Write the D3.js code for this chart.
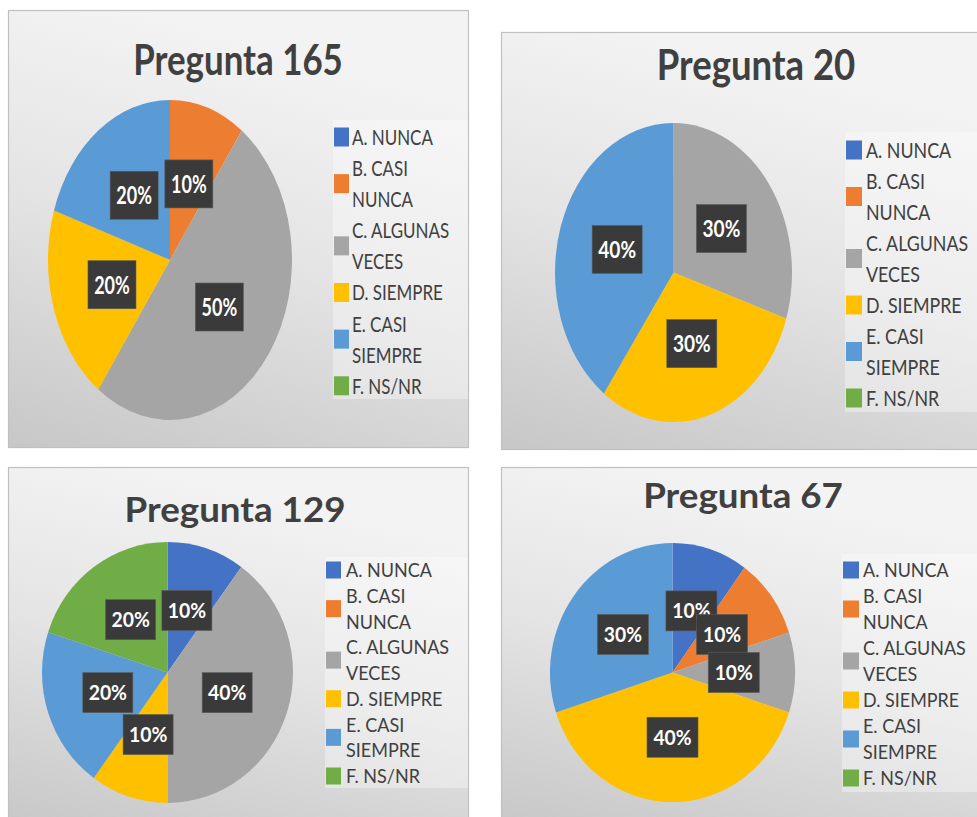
<!DOCTYPE html>
<html>
<head>
<meta charset="utf-8">
<script src="https://cdn.jsdelivr.net/npm/d3@7/dist/d3.min.js"></script>
<style>
  html, body { margin: 0; padding: 0; background: #ffffff; }
  svg { display: block; }
  text { font-family: Lato, "Open Sans", sans-serif; }
</style>
</head>
<body>
<svg id="chart" width="977" height="817"></svg>
<script>
// Answer options shared by every question
const categories = ["A. NUNCA", "B. CASI NUNCA", "C. ALGUNAS VECES", "D. SIEMPRE", "E. CASI SIEMPRE", "F. NS/NR"];
const legendLines = [["A. NUNCA"], ["B. CASI", "NUNCA"], ["C. ALGUNAS", "VECES"], ["D. SIEMPRE"], ["E. CASI", "SIEMPRE"], ["F. NS/NR"]];
const colors = ["#4472C4", "#ED7D31", "#A5A5A5", "#FFC000", "#5B9BD5", "#70AD47"];

// Percent of answers per option
const titles = ["Pregunta 165", "Pregunta 20", "Pregunta 129", "Pregunta 67"];
const values165 = [0, 10, 50, 20, 20, 0];
const values20 = [0, 0, 30, 30, 40, 0];
const values129 = [10, 0, 40, 10, 20, 20];
const values67 = [10, 10, 10, 40, 30, 0];
const seriesValues = [values165, values20, values129, values67];

// Layout of each chart panel
const panels = [
  { box: [8, 10, 460, 437], c: [170, 260], rx: 122, ry: 160,
    title: [238, 75, 42, 0.83], leg: [333, 120, 135, 279, 137, 31.1, 15, 19, 352, 22, 0.77],
    lab: [25, 0.72, 48, 48] },
  { box: [501, 32, 490, 417], c: [673.5, 272.5], rx: 118.5, ry: 149.5,
    title: [756, 80, 42, 0.87], leg: [845, 132, 140, 280, 150, 31, 16, 19, 866, 21, 0.85],
    lab: [23, 0.83, 50, 48] },
  { box: [8, 467, 460, 360], c: [167.5, 672.5], rx: 125.5, ry: 130.5,
    title: [235, 522, 35, 1.05], leg: [325, 557, 143, 231, 570, 25.75, 15, 17, 346, 20, 0.9],
    lab: [20, 0.97, 50, 40] },
  { box: [501, 467, 490, 360], c: [672.5, 672.5], rx: 122.5, ry: 129.5,
    title: [743, 508, 35, 1.05], leg: [842, 554, 140, 238, 570, 26, 16, 17, 863, 19.5, 0.92],
    lab: [21, 0.92, 51, 40] }
];

const svg = d3.select("#chart");
const defs = svg.append("defs");
const grad = defs.append("linearGradient").attr("id", "panelFill")
  .attr("x1", 0.3).attr("y1", 0).attr("x2", 0).attr("y2", 1);
grad.append("stop").attr("offset", 0).attr("stop-color", "#f3f3f3");
grad.append("stop").attr("offset", 0.45).attr("stop-color", "#e4e4e4");
grad.append("stop").attr("offset", 1).attr("stop-color", "#c7c7c7");

const R = 100;
const pie = d3.pie().sort(null).value(d => d.value);
const arc = d3.arc().innerRadius(0).outerRadius(R);
const lineStart = [0, 1, 3, 5, 6, 8];

panels.forEach((p, i) => {
  const data = categories.map((name, k) => ({ name, value: seriesValues[i][k], color: colors[k] }));
  const g = svg.append("g");
  const [bx, by, bw, bh] = p.box;

  g.append("rect").attr("x", bx + 0.5).attr("y", by + 0.5).attr("width", bw).attr("height", bh)
    .attr("fill", "url(#panelFill)").attr("stroke", "#c0c0c0").attr("stroke-width", 1.2);

  // Title
  const [tx, ty, ts, tsx] = p.title;
  g.append("text").attr("transform", `translate(${tx},${ty}) scale(${tsx},1)`)
    .attr("text-anchor", "middle").attr("font-size", ts).attr("font-weight", 700)
    .attr("fill", "#404040").text(titles[i]);

  // Pie, drawn on a circle and stretched to the panel's ellipse
  const arcs = pie(data);
  const pg = g.append("g").attr("transform", `translate(${p.c[0]},${p.c[1]})`);
  pg.append("g").attr("transform", `scale(${p.rx / R},${p.ry / R})`)
    .selectAll("path").data(arcs.filter(d => d.data.value > 0)).join("path")
    .attr("d", arc).attr("fill", d => d.data.color);

  // Data labels
  const [ls, lsx, lw, lh] = p.lab;
  arcs.filter(d => d.data.value > 0).forEach(d => {
    const cc = arc.centroid(d);
    const x = cc[0] * p.rx / R, y = cc[1] * p.ry / R;
    pg.append("rect").attr("x", x - lw / 2).attr("y", y - lh / 2).attr("width", lw).attr("height", lh)
      .attr("fill", "#3a3a3a").attr("stroke", "#5a5a5a").attr("stroke-width", 0.6);
    pg.append("text").attr("transform", `translate(${x},${y}) scale(${lsx},1)`)
      .attr("text-anchor", "middle").attr("dy", "0.36em")
      .attr("font-size", ls).attr("font-weight", 700).attr("fill", "#ffffff")
      .text(d3.format(".0%")(d.data.value / 100));
  });

  // Legend
  const [gx, gy, gw, gh, y0, step, sw, sh, textX, fs, fsx] = p.leg;
  g.append("rect").attr("x", gx).attr("y", gy).attr("width", gw).attr("height", gh)
    .attr("fill", "#ffffff").attr("fill-opacity", 0.35);
  data.forEach((d, k) => {
    const lines = legendLines[k];
    const first = y0 + lineStart[k] * step;
    const mid = first + (lines.length - 1) * step / 2;
    g.append("rect").attr("x", gx + 1).attr("y", mid - sh / 2).attr("width", sw).attr("height", sh)
      .attr("fill", d.color);
    lines.forEach((t, j) => {
      g.append("text").attr("transform", `translate(${textX},${first + j * step}) scale(${fsx},1)`)
        .attr("dy", "0.36em").attr("font-size", fs).attr("fill", "#404040").text(t);
    });
  });
});
</script>
</body>
</html>
